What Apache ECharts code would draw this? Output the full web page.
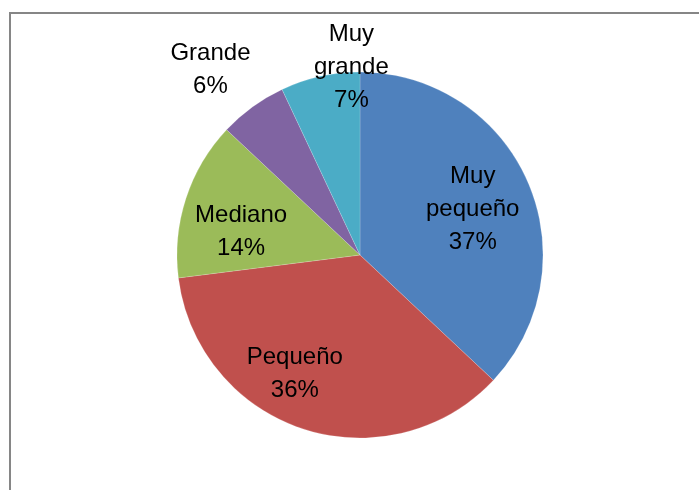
<!DOCTYPE html>
<html>
<head>
    <meta charset="utf-8">
    <script src="https://cdn.jsdelivr.net/npm/echarts@6/dist/echarts.min.js"></script>
    <style>
        body { margin: 0; background: #fff; }
    </style>
</head>
<body>
<div id="main" style="width: 699px;height:490px;"></div>
<script type="text/javascript">
    // data
    var categories = ['Muy pequeño', 'Pequeño', 'Mediano', 'Grande', 'Muy grande'];
    var labelTexts = ['Muy\npequeño', 'Pequeño', 'Mediano', 'Grande', 'Muy\ngrande'];
    var values = [37, 36, 14, 6, 7];
    var colors = ['#4F81BD', '#C0504D', '#9BBB59', '#8064A2', '#4BACC6'];
    // label nudges from the inside position
    var labelShift = [[26, -8], [-36, 29], [-29, 6], [-94, -109], [12, -95]];

    var myChart = echarts.init(document.getElementById('main'));

    var pieData = categories.map(function (c, i) {
        return { name: c, value: values[i], itemStyle: { color: colors[i] } };
    });

    var option = {
        animation: false,
        graphic: [{
            type: 'rect',
            shape: { x: 10, y: 13, width: 720, height: 500 },
            style: { fill: null, stroke: '#868686', lineWidth: 2 }
        }],
        series: [{
            type: 'pie',
            center: [360, 255],
            radius: 183,
            startAngle: 90,
            clockwise: true,
            itemStyle: { borderColor: 'rgba(255,255,255,0.35)', borderWidth: 0.5 },
            label: {
                position: 'inside',
                color: '#000',
                fontFamily: 'Liberation Sans',
                fontSize: 24,
                lineHeight: 33,
                align: 'center',
                formatter: function (p) {
                    return labelTexts[p.dataIndex] + '\n' + values[p.dataIndex] + '%';
                }
            },
            labelLine: { show: false },
            labelLayout: function (p) {
                var s = labelShift[p.dataIndex];
                return { dx: s[0], dy: s[1] };
            },
            emphasis: { disabled: true },
            data: pieData
        }]
    };

    myChart.setOption(option);
</script>
</body>
</html>
